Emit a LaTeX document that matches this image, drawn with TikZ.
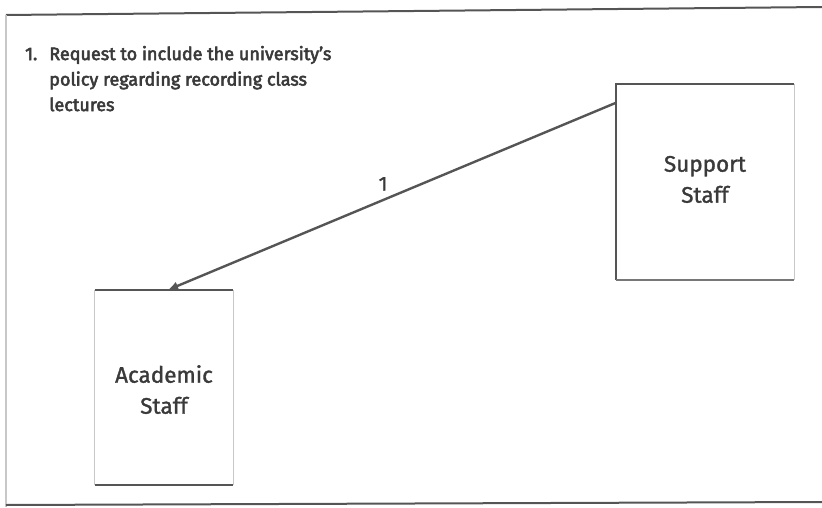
\documentclass[tikz,border=0pt]{standalone}
\usepackage{fontspec}
\setmainfont{Fira Sans}
\newcommand\heavyon[1]{\special{pdf:literal direct 2 Tr #1 w}}
\newcommand\heavyoff{\special{pdf:literal direct 0 Tr}}
\usetikzlibrary{calc,arrows.meta}
\definecolor{ink}{HTML}{3A3A3A}
\definecolor{frameln}{HTML}{555555}
\definecolor{faint}{HTML}{C8C8C8}
\tikzset{
  box/.style={rectangle, draw=none, inner sep=0pt, align=center, text=ink,
              font=\fontsize{22.5}{31}\selectfont},
  dark/.style={draw=frameln, line width=2.2pt},
  light/.style={draw=faint, line width=1pt},
  flow/.style={draw=frameln, line width=2.4pt, -{Latex[length=10pt,width=9pt]}},
}
\begin{document}
\begin{tikzpicture}[x=1pt,y=1pt]
\useasboundingbox (0,0) rectangle (822,507);
% outer frame
\coordinate (ftl) at (6,492);
\coordinate (ftr) at (822,500);
\coordinate (fbl) at (6,0);
\coordinate (fblb) at (6,2);
\coordinate (fbr) at (822,5);
\draw[frameln, line width=2pt] (ftl) -- (ftr);
\draw[faint, line width=1.2pt] (ftl) -- (fbl);
\draw[frameln, line width=2pt] (fblb) -- (fbr);
% note
\node[anchor=north west, inner sep=0pt, text=ink, font=\fontsize{18}{25.5}\selectfont] (note) at (25,465)
 {\heavyon{0.55}\begin{tabular}{@{}l@{\hspace{12pt}}l@{}}
  1. & Request to include the university's\\
     & policy regarding recording class\\
     & lectures
  \end{tabular}\heavyoff};
% boxes
\node[box, minimum width=178pt, minimum height=196pt] (sup) at (705,325) {};
\node[box, minimum width=138pt, minimum height=195pt] (aca) at (164,119.5) {};
\node[box] (suplbl) at (705,326) {\heavyon{0.3}\begin{tabular}{@{}c@{}}Support\\Staff\end{tabular}\heavyoff};
\node[box] (acalbl) at (164,115) {\heavyon{0.3}\begin{tabular}{@{}c@{}}Academic\\Staff\end{tabular}\heavyoff};
% support box sides
\draw[dark] (sup.south west) -- (sup.north west) -- (sup.north east);
\draw[light] (sup.north east) -- (sup.south east);
\draw[draw=frameln!80, line width=1.6pt] (sup.south west) -- (sup.south east);
% academic box sides
\draw[dark] (aca.north west) -- (aca.north east);
\draw[dark] (aca.south west) -- (aca.south east);
\draw[light] (aca.north west) -- (aca.south west);
\draw[light] (aca.north east) -- (aca.south east);
% connector
\coordinate (from) at ($(sup.north west)!0.097!(sup.south west)$);
\coordinate (to) at ($(aca.north west)!0.53!(aca.north east)$);
\draw[flow] (from) -- (to) node[pos=0.52, above=5pt, text=ink, font=\fontsize{20}{22}\selectfont] (lbl) {\heavyon{0.3}1\heavyoff};
\end{tikzpicture}
\end{document}
